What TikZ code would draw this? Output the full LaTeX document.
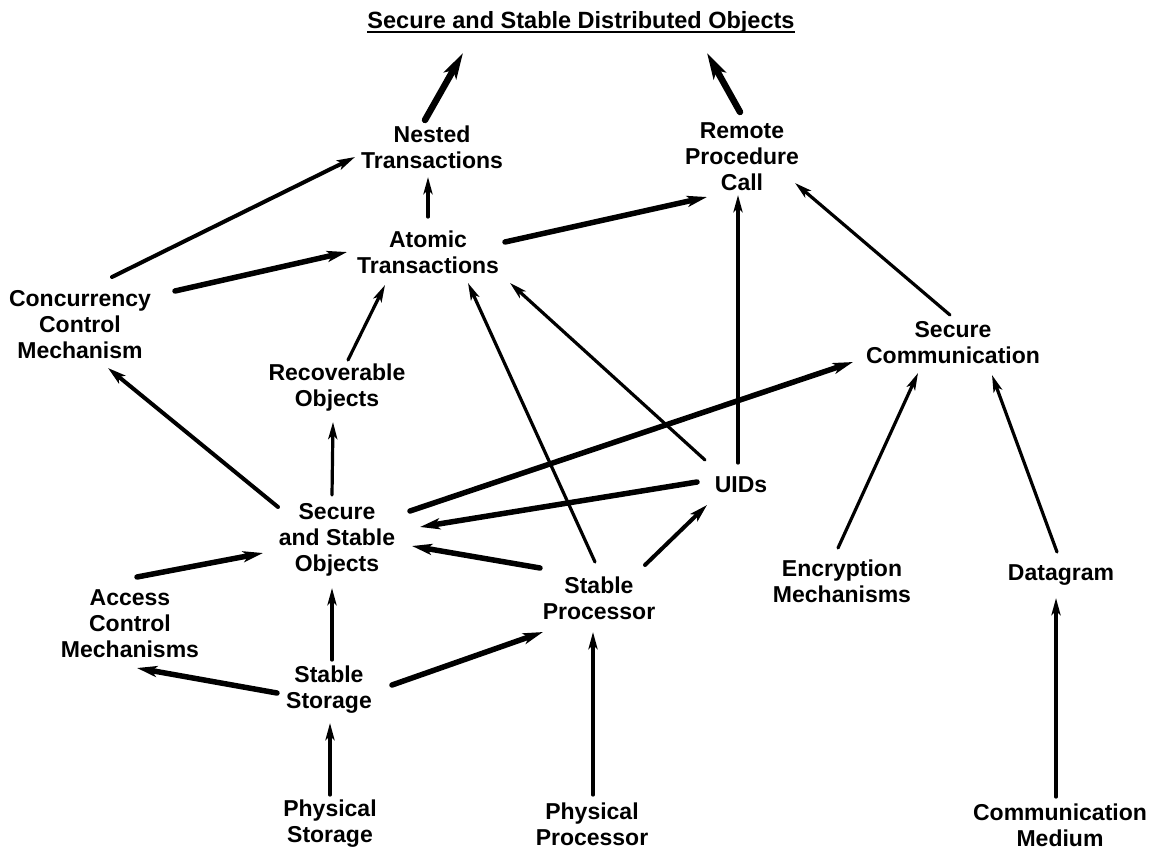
\documentclass[tikz,border=0pt]{standalone}
\usepackage{fontspec}
\setmainfont{Liberation Sans}
\usetikzlibrary{arrows.meta}
\begin{document}
\begin{tikzpicture}[x=1pt,y=-1pt,
  lbl/.style={font=\bfseries\fontsize{23}{26}\selectfont, align=center, inner sep=0pt},
  ttl/.style={font=\bfseries\fontsize{23.5}{26}\selectfont, inner sep=0pt},
  arr/.style={line width=3.2pt, line cap=round, -{Stealth[length=17pt,width=9pt,inset=4pt]}},
  arrm/.style={line width=4pt, line cap=round, -{Stealth[length=18pt,width=10pt,inset=4pt]}},
  arrh/.style={line width=5.5pt, line cap=round, -{Stealth[length=20pt,width=11pt,inset=5pt]}},
  arrt/.style={line width=6.5pt, line cap=round, -{Stealth[length=26pt,width=14pt,inset=6pt]}}]
\useasboundingbox (0,0) rectangle (1150,851);
\fill[white] (0,0) rectangle (1150,851);

% concepts
\node[ttl, anchor=base] (T) at (581,29) {Secure and Stable Distributed Objects};
\draw[line width=2.6pt] ([yshift=-3pt]T.base west) -- ([yshift=-3pt]T.base east);
\node[lbl] (N) at (432,147) {Nested\\Transactions};
\node[lbl] (R) at (742,157) {Remote\\Procedure\\Call};
\node[lbl] (A) at (428,252) {Atomic\\Transactions};
\node[lbl] (C) at (80,325) {Concurrency\\Control\\Mechanism};
\node[lbl] (V) at (337,388) {Recoverable\\Objects};
\node[lbl] (S) at (953,343) {Secure\\Communication};
\node[lbl] (U) at (741,485) {UIDs};
\node[lbl] (O) at (337,540) {Secure\\and Stable\\Objects};
\node[lbl] (P) at (599,598) {Stable\\Processor};
\node[lbl] (E) at (842,581) {Encryption\\Mechanisms};
\node[lbl] (D) at (1061,575) {Datagram};
\node[lbl] (X) at (130,624) {Access\\Control\\Mechanisms};
\node[lbl] (G) at (329,690) {Stable\\Storage};
\node[lbl] (H) at (330,824) {Physical\\Storage};
\node[lbl] (Q) at (592,824) {Physical\\Processor};
\node[lbl] (M) at (1060,825) {Communication\\Medium};

% dependencies
\draw[arrt] ([shift={(-7,-27)}]N.center) -- ([shift={(-118,30)}]T.center);
\draw[arrt] ([shift={(-2,-45)}]R.center) -- ([shift={(126,30)}]T.center);
\draw[arr]  ([shift={(0,-35)}]A.center) -- ([shift={(-4,30)}]N.center);
\draw[arrm] ([shift={(32,-48)}]C.center) -- ([shift={(-77,10)}]N.center);
\draw[arrh] ([shift={(95,-34)}]C.center) -- ([shift={(-81,0)}]A.center);
\draw[arrh] ([shift={(77,-10)}]A.center) -- ([shift={(-35,40)}]R.center);
\draw[arr]  ([shift={(11,-28)}]V.center) -- ([shift={(-43,33)}]A.center);
\draw[arr]  ([shift={(-3,-28)}]S.center) -- ([shift={(53,26)}]R.center);
\draw[arr]  ([shift={(-3,-22)}]U.center) -- ([shift={(-4,38)}]R.center);
\draw[arr]  ([shift={(-36,-25)}]U.center) -- ([shift={(82,31)}]A.center);
\draw[arr]  ([shift={(-4,-36)}]P.center) -- ([shift={(40,31)}]A.center);
\draw[arr]  ([shift={(-5,-45)}]O.center) -- ([shift={(-4,34)}]V.center);
\draw[arrm] ([shift={(-59,-33)}]O.center) -- ([shift={(28,43)}]C.center);
\draw[arrh] ([shift={(73,-29)}]O.center) -- ([shift={(-100,19)}]S.center);
\draw[arrh] ([shift={(-44,-3)}]U.center) -- ([shift={(83,-13)}]O.center);
\draw[arrh] ([shift={(-59,-30)}]P.center) -- ([shift={(75,6)}]O.center);
\draw[arrm] ([shift={(46,-33)}]P.center) -- ([shift={(-34,20)}]U.center);
\draw[arr]  ([shift={(3,-30)}]G.center) -- ([shift={(-5,48)}]O.center);
\draw[arrh] ([shift={(-52,3)}]G.center) -- ([shift={(7,44)}]X.center);
\draw[arrh] ([shift={(63,-5)}]G.center) -- ([shift={(-56,34)}]P.center);
\draw[arrh] ([shift={(7,-47)}]X.center) -- ([shift={(-74,13)}]O.center);
\draw[arr]  ([shift={(0,-29)}]H.center) -- ([shift={(1,33)}]G.center);
\draw[arr]  ([shift={(1,-29)}]Q.center) -- ([shift={(-6,34)}]P.center);
\draw[arr]  ([shift={(-4,-33)}]E.center) -- ([shift={(-35,30)}]S.center);
\draw[arr]  ([shift={(-4,-23)}]D.center) -- ([shift={(39,32)}]S.center);
\draw[arr]  ([shift={(-4,-28)}]M.center) -- ([shift={(-5,23)}]D.center);
\end{tikzpicture}
\end{document}
